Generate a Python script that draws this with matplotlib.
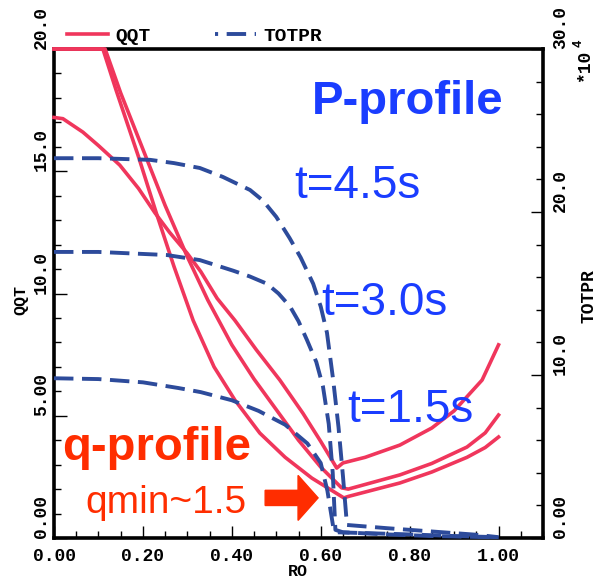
import matplotlib
matplotlib.use('Agg')
import matplotlib.pyplot as plt
from matplotlib.lines import Line2D
from matplotlib.ticker import MultipleLocator

# QQT profiles (left axis), radius RO
ro_q1 = [0, 0.02, 0.065, 0.10, 0.148, 0.19, 0.227, 0.26, 0.299, 0.33, 0.367, 0.407, 0.455, 0.508, 0.56, 0.60, 0.636,
         0.65, 0.70, 0.778, 0.85, 0.90, 0.963, 1.0]
qqt_1 = [17.2, 17.15, 16.6, 16.05, 15.25, 14.3, 13.3, 12.5, 11.66, 10.9, 9.8, 8.9, 7.7, 6.46, 5.1, 3.95, 2.86,
         3.07, 3.3, 3.8, 4.5, 5.2, 6.46, 7.9]

ro_q2 = [0, 0.115, 0.15, 0.20, 0.25, 0.30, 0.346, 0.40, 0.45, 0.50, 0.55, 0.60, 0.647,
         0.662, 0.778, 0.85, 0.929, 0.97, 1.0]
qqt_2 = [20, 20, 18.2, 15.9, 13.6, 11.5, 9.73, 7.9, 6.5, 5.25, 4.0, 2.9, 2.05,
         2.0, 2.58, 3.05, 3.72, 4.3, 5.03]

ro_q3 = [0, 0.11, 0.14, 0.19, 0.23, 0.27, 0.313, 0.36, 0.407, 0.463, 0.52, 0.58, 0.62, 0.652,
         0.662, 0.778, 0.85, 0.929, 0.97, 1.0]
qqt_3 = [20, 20, 18.3, 15.6, 13.3, 11.1, 8.9, 7.0, 5.64, 4.29, 3.3, 2.45, 2.0, 1.64,
         1.7, 2.25, 2.7, 3.3, 3.7, 4.13]

# TOTPR profiles (right axis, *10^4)
ro_p45 = [0, 0.1, 0.216, 0.27, 0.328, 0.38, 0.441, 0.47, 0.50, 0.53, 0.555, 0.583, 0.60, 0.614, 0.628, 0.64,
          0.65, 0.659, 0.75, 0.85, 0.95, 1.0]
totpr_45 = [23.3, 23.3, 23.2, 23.0, 22.7, 22.15, 21.35, 20.7, 19.7, 18.4, 17.2, 15.6, 14.2, 12.6, 9.7, 6.8,
            3.8, 0.8, 0.6, 0.4, 0.2, 0.05]

ro_p30 = [0, 0.1, 0.254, 0.328, 0.403, 0.44, 0.479, 0.505, 0.531, 0.55, 0.569, 0.59, 0.605, 0.618, 0.627, 0.633,
          0.65, 0.75, 0.85, 1.0]
totpr_30 = [17.55, 17.55, 17.36, 17.05, 16.4, 16.05, 15.6, 15.0, 14.2, 13.3, 12.15, 10.8, 9.3, 7.0, 4.0, 0.5,
            0.35, 0.22, 0.12, 0.04]

ro_p15 = [0, 0.1, 0.2, 0.28, 0.33, 0.40, 0.46, 0.52, 0.57, 0.60, 0.615, 0.628, 0.636,
          0.70, 0.80, 0.90, 1.0]
totpr_15 = [9.8, 9.75, 9.55, 9.2, 8.95, 8.45, 7.8, 6.95, 5.8, 4.6, 2.9, 0.7, 0.35,
            0.3, 0.22, 0.12, 0.05]

x_ticks = [0, 0.2, 0.4, 0.6, 0.8, 1.0]
x_labels = ['0.00', '0.20', '0.40', '0.60', '0.80', '1.00']
q_ticks = [0, 5, 10, 15, 20]
q_labels = ['0.00', '5.00', '10.0', '15.0', '20.0']
p_ticks = [0, 10, 20, 30]
p_labels = ['0.00', '10.0', '20.0', '30.0']

RED = '#F0365C'
BLUE = '#2D4B9B'
TXT_BLUE = '#1A3DFF'
TXT_RED = '#FF2D00'
MONO = 'Liberation Mono'
SANS = 'Liberation Sans'

plt.rcParams['font.family'] = MONO
plt.rcParams['font.weight'] = 'bold'

fig = plt.figure(figsize=(5.96, 5.81), dpi=100)
ax = fig.add_axes([54 / 596, 43 / 581, 489 / 596, 489 / 581])
ax2 = ax.twinx()

lw = 2.6
dash = (0, (5, 2.2))
for xs, ys in [(ro_q1, qqt_1), (ro_q2, qqt_2), (ro_q3, qqt_3)]:
    ax.plot(xs, ys, color=RED, lw=lw, clip_on=False, zorder=3, solid_joinstyle='round')
for xs, ys in [(ro_p45, totpr_45), (ro_p30, totpr_30), (ro_p15, totpr_15)]:
    ax2.plot(xs, ys, color=BLUE, lw=2.8, ls=dash, clip_on=False, zorder=3)

ax.set_xlim(0, 1.1)
ax.set_ylim(0, 20)
ax2.set_ylim(0, 30)

for s in ax.spines.values():
    s.set_linewidth(2.6)
ax.spines['right'].set_visible(False)
for k in ['top', 'bottom', 'left']:
    ax2.spines[k].set_visible(False)
ax2.spines['right'].set_linewidth(2.6)

ax.set_xticks(x_ticks, labels=x_labels)
ax.xaxis.set_minor_locator(MultipleLocator(0.05))
ax.set_yticks(q_ticks, labels=q_labels)
ax.yaxis.set_minor_locator(MultipleLocator(1))
ax2.set_yticks(p_ticks, labels=p_labels)
ax2.yaxis.set_minor_locator(MultipleLocator(2))

ax.tick_params(axis='x', which='both', direction='in', top=False, labelsize=13, pad=7, width=1.0)
ax.tick_params(axis='y', which='both', direction='in', right=False, labelsize=13, pad=3, width=1.0)
ax2.tick_params(axis='y', which='both', direction='in', labelsize=13, pad=6.5, width=1.0)
for a in (ax, ax2):
    a.tick_params(which='major', length=9)
    a.tick_params(which='minor', length=5)

for lab in ax.get_yticklabels():
    lab.set_rotation(90)
    lab.set_va('bottom')
for lab in ax2.get_yticklabels():
    lab.set_rotation(90)
    lab.set_va('bottom')

# axis labels
fig.text(21 / 596, 1 - 300 / 581, 'QQT', rotation=90, ha='center', va='center', fontsize=12)
fig.text(589 / 596, 1 - 296 / 581, 'TOTPR', rotation=90, ha='center', va='center', fontsize=13)
fig.text(298 / 596, 1 - 572 / 581, 'RO', ha='center', va='center', fontsize=12)
fig.text(585 / 596, 1 - 66 / 581, '*10', rotation=90, ha='center', va='center', fontsize=13)
fig.text(579 / 596, 1 - 43 / 581, '4', rotation=90, ha='center', va='center', fontsize=9)

# legend
handles = [Line2D([], [], color=RED, lw=lw),
           Line2D([], [], color=BLUE, lw=2.8, ls=(4.2, (5, 2.2)))]
ax.legend(handles, ['QQT', 'TOTPR'], loc='center left', bbox_to_anchor=(0.027, 1.027), ncol=2,
          frameon=False, borderpad=0, borderaxespad=0, handlelength=2.1, handletextpad=0.36,
          columnspacing=3.35, prop={'family': MONO, 'weight': 'bold', 'size': 14})

# annotations
ax.text(0.528, 0.867, 'P-profile', transform=ax.transAxes, family=SANS, weight='bold',
        fontsize=34, color=TXT_BLUE, ha='left', va='baseline', zorder=5)
ax.text(0.491, 0.695, 't=4.5s', transform=ax.transAxes, family=SANS, weight='normal',
        fontsize=33, color=TXT_BLUE, ha='left', va='baseline', zorder=5)
ax.text(0.546, 0.456, 't=3.0s', transform=ax.transAxes, family=SANS, weight='normal',
        fontsize=33, color=TXT_BLUE, ha='left', va='baseline', zorder=5)
ax.text(0.599, 0.237, 't=1.5s', transform=ax.transAxes, family=SANS, weight='normal',
        fontsize=33, color=TXT_BLUE, ha='left', va='baseline', zorder=5)
ax.text(0.016, 0.1595, 'q-profile', transform=ax.transAxes, family=SANS, weight='bold',
        fontsize=34, color=TXT_RED, ha='left', va='baseline', zorder=5)
ax.text(0.0634, 0.051, 'qmin~1.5', transform=ax.transAxes, family=SANS, weight='normal',
        fontsize=28, color=TXT_RED, ha='left', va='baseline', zorder=5)
ax.arrow(0.475, 1.64, 0.119, 0, width=0.62, head_width=1.84, head_length=0.045,
         length_includes_head=True, color=TXT_RED, zorder=5)

fig.savefig('out.png', dpi=100)
